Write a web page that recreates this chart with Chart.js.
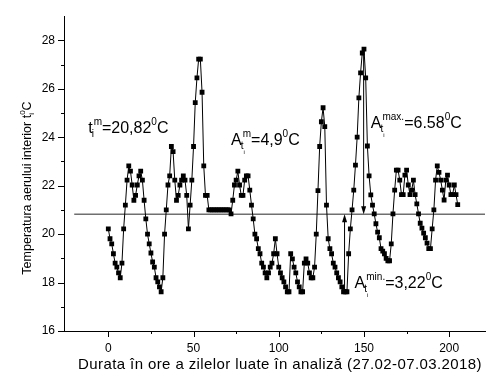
<!DOCTYPE html>
<html>
<head>
<meta charset="utf-8">
<script src="https://cdn.jsdelivr.net/npm/chart.js@4.4.0/dist/chart.umd.min.js"></script>
<style>
  body { margin: 0; background: #fff; }
  #wrap { width: 489px; height: 378px; }
</style>
</head>
<body>
<div id="wrap"><canvas id="tempChart" width="489" height="378"></canvas></div>
<script>
// Indoor air temperature, one reading per hour (hour = index)
const temps = [
  20.22, 19.81, 19.6, 19.19, 18.8, 18.64, 18.4, 18.2, 18.8, 20.22,
  21.2, 22.23, 22.82, 22.6, 22.03, 21.4, 21.6, 22.03, 22.41, 22.6,
  22.23, 21.4, 20.63, 20.0, 19.6, 19.22, 18.85, 18.64, 18.2, 18.03,
  17.82, 17.62, 18.2, 20.0, 21.0, 22.03, 22.41, 23.62, 23.41, 22.23,
  21.4, 21.6, 22.03, 22.23, 22.41, 22.23, 21.6, 20.22, 21.2, 22.23,
  23.62, 25.43, 26.45, 27.23, 27.23, 25.86, 22.82, 21.6, 21.6, 21.0,
  21.0, 21.0, 21.0, 21.0, 21.0, 21.0, 21.0, 21.0, 21.0, 21.0,
  21.0, 21.0, 20.84, 21.4, 22.03, 22.23, 22.6, 22.03, 21.6, 21.6,
  22.23, 22.41, 22.41, 21.82, 21.2, 20.63, 20.0, 19.81, 19.4, 19.19,
  18.8, 18.64, 18.4, 18.2, 18.4, 18.64, 18.8, 19.19, 19.81, 19.19,
  18.64, 18.4, 18.2, 18.03, 17.82, 17.62, 17.62, 19.19, 18.98, 18.64,
  18.4, 18.03, 17.82, 17.62, 17.62, 18.8, 18.98, 18.8, 18.4, 18.2,
  18.2, 18.64, 20.0, 21.8, 23.62, 24.64, 25.22, 24.44, 21.2, 19.81,
  19.4, 19.19, 18.8, 18.64, 18.4, 18.2, 18.03, 17.82, 17.62, 17.62,
  17.62, 19.19, 20.22, 21.0, 21.82, 22.85, 24.01, 25.63, 26.66, 27.48,
  27.64, 26.45, 23.64, 22.41, 21.62, 21.2, 20.84, 20.43, 20.08, 19.85,
  19.4, 19.3, 19.19, 19.0, 18.9, 18.9, 19.6, 20.84, 21.82, 22.64,
  22.64, 22.23, 21.63, 21.63, 22.44, 22.64, 22.03, 21.63, 21.82, 22.23,
  21.63, 21.25, 20.84, 20.45, 20.25, 20.04, 19.85, 19.63, 19.4, 19.4,
  20.22, 21.0, 22.23, 22.82, 22.55, 22.23, 21.82, 21.41, 22.23, 22.44,
  22.03, 21.63, 21.63, 22.03, 21.63, 21.22
];

// mean line
const meanValue = 20.82;
const meanFromX = -20;
const meanToX = 221;

// amplitude arrows: x position, start value, end value (arrowhead at end)
const arrowX = [138.6, 149.8];
const arrowFrom = [17.62, 27.6];
const arrowTo = [20.82, 20.82];

// axis ticks
const xMajorTicks = [0, 50, 100, 150, 200];
const xMinorTicks = [25, 75, 125, 175];
const yMajorTicks = [16, 18, 20, 22, 24, 26, 28];
const yMinorTicks = [17, 19, 21, 23, 25, 27];

const FONT = 'Arial, "Liberation Sans", sans-serif';

function font(size) {
    return size + 'px ' + FONT;
}

// draws "base" with sub/superscript, then "=value", then "0" superscript and "C"
function drawLabel(ctx, x, y, base, sub, subsub, sup, value) {
    ctx.fillStyle = '#000';
    ctx.textBaseline = 'alphabetic';
    ctx.textAlign = 'left';
    ctx.font = font(16);
    ctx.fillText(base, x, y);
    let x1 = x + ctx.measureText(base).width;
    ctx.font = font(10);
    ctx.fillText(sup, x1 + 1, y - 8);
    const supW = ctx.measureText(sup).width + 1;
    ctx.fillText(sub, x1 - 1, y + 4);
    let subW = ctx.measureText(sub).width;
    if (subsub) {
        ctx.font = font(6);
        ctx.fillText(subsub, x1 - 1 + subW, y + 9);
        subW += ctx.measureText(subsub).width;
    }
    let x2 = x1 + Math.max(supW, subW);
    ctx.font = font(16);
    ctx.fillText('=' + value, x2, y);
    x2 += ctx.measureText('=' + value).width;
    ctx.font = font(10);
    ctx.fillText('0', x2, y - 8);
    x2 += ctx.measureText('0').width;
    ctx.font = font(16);
    ctx.fillText('C', x2, y);
}

const decorPlugin = {
    id: 'decor',
    afterDatasetsDraw(chart) {
        const ctx = chart.ctx;
        const xs = chart.scales.x;
        const ys = chart.scales.y;
        const area = chart.chartArea;
        ctx.save();

        // arrows
        ctx.strokeStyle = '#000';
        ctx.fillStyle = '#000';
        ctx.lineWidth = 1;
        for (let i = 0; i < arrowX.length; i++) {
            const px = xs.getPixelForValue(arrowX[i]);
            const y0 = ys.getPixelForValue(arrowFrom[i]);
            const y1 = ys.getPixelForValue(arrowTo[i]);
            const dir = y1 > y0 ? 1 : -1;
            ctx.beginPath();
            ctx.moveTo(px, y0);
            ctx.lineTo(px, y1 - dir * 6);
            ctx.stroke();
            ctx.beginPath();
            ctx.moveTo(px, y1);
            ctx.lineTo(px - 2.5, y1 - dir * 8);
            ctx.lineTo(px + 2.5, y1 - dir * 8);
            ctx.closePath();
            ctx.fill();
        }

        // annotations
        drawLabel(ctx, xs.getPixelForValue(-11.8), ys.getPixelForValue(24.18), 't', 'i', '', 'm', '20,82');
        drawLabel(ctx, xs.getPixelForValue(72), ys.getPixelForValue(23.7), 'A', 't', 'i', 'm', '4,9');
        drawLabel(ctx, xs.getPixelForValue(154), ys.getPixelForValue(24.4), 'A', 't', 'i', 'max.', '6.58');
        drawLabel(ctx, xs.getPixelForValue(144.5), ys.getPixelForValue(17.77), 'A', 't', 'i', 'min.', '3,22');

        // tick marks
        ctx.strokeStyle = '#000';
        ctx.lineWidth = 1;
        ctx.beginPath();
        xMajorTicks.forEach(v => {
            const px = Math.round(xs.getPixelForValue(v)) + 0.5;
            ctx.moveTo(px, area.bottom);
            ctx.lineTo(px, area.bottom + 6);
        });
        xMinorTicks.forEach(v => {
            const px = Math.round(xs.getPixelForValue(v)) + 0.5;
            ctx.moveTo(px, area.bottom);
            ctx.lineTo(px, area.bottom + 3);
        });
        yMajorTicks.forEach(v => {
            const py = Math.round(ys.getPixelForValue(v)) + 0.5;
            ctx.moveTo(area.left, py);
            ctx.lineTo(area.left - 6, py);
        });
        yMinorTicks.forEach(v => {
            const py = Math.round(ys.getPixelForValue(v)) + 0.5;
            ctx.moveTo(area.left, py);
            ctx.lineTo(area.left - 3, py);
        });
        ctx.stroke();

        // x axis title
        ctx.fillStyle = '#000';
        ctx.font = font(15);
        ctx.letterSpacing = '0.4px';
        ctx.textAlign = 'center';
        ctx.fillText('Durata în ore a zilelor luate în analiză (27.02-07.03.2018)', 280, 369);
        ctx.letterSpacing = '0px';

        // y axis title (rotated, with subscript i and superscript 0)
        ctx.save();
        ctx.translate(31, 188);
        ctx.rotate(-Math.PI / 2);
        ctx.textAlign = 'left';
        const main = 'Temperatura aerului interior t';
        ctx.font = font(12.5);
        const wMain = ctx.measureText(main).width;
        ctx.font = font(8);
        const wSub = ctx.measureText('0').width;
        ctx.font = font(12.5);
        const wC = ctx.measureText('C').width;
        const total = wMain + wSub + wC;
        let tx = -total / 2;
        ctx.fillText(main, tx, 0);
        tx += wMain;
        ctx.font = font(8);
        ctx.fillText('0', tx, -6);
        ctx.fillText('i', tx, 3);
        tx += wSub;
        ctx.font = font(12.5);
        ctx.fillText('C', tx, 0);
        ctx.restore();

        ctx.restore();
    }
};

const ctx = document.getElementById('tempChart').getContext('2d');

new Chart(ctx, {
    type: 'line',
    data: {
        datasets: [
            {
                data: temps.map((v, i) => ({ x: i, y: v })),
                borderColor: '#000',
                borderWidth: 1,
                backgroundColor: '#000',
                pointStyle: 'rect',
                pointRadius: 3.4,
                pointBorderWidth: 0,
                tension: 0,
                order: 1
            },
            {
                data: [{ x: meanFromX, y: meanValue }, { x: meanToX, y: meanValue }],
                borderColor: '#6f6f6f',
                borderWidth: 1.6,
                pointRadius: 0,
                order: 2
            }
        ]
    },
    options: {
        responsive: false,
        animation: false,
        devicePixelRatio: 1,
        layout: { padding: { left: 0, right: 0, top: 14, bottom: 0 } },
        plugins: {
            legend: { display: false },
            tooltip: { enabled: false }
        },
        scales: {
            x: {
                type: 'linear',
                min: -26,
                max: 221,
                afterBuildTicks: scale => {
                    scale.ticks = xMajorTicks.map(v => ({ value: v }));
                },
                afterFit: scale => { scale.height = 47; },
                grid: { display: false, drawTicks: false },
                border: { display: true, color: '#000', width: 1 },
                ticks: {
                    color: '#000',
                    font: { family: FONT, size: 12 },
                    padding: 10,
                    maxRotation: 0
                }
            },
            y: {
                type: 'linear',
                min: 16,
                max: 29,
                afterBuildTicks: scale => {
                    scale.ticks = yMajorTicks.map(v => ({ value: v }));
                },
                afterFit: scale => { scale.width = 64; },
                grid: { display: false, drawTicks: false },
                border: { display: true, color: '#000', width: 1 },
                ticks: {
                    color: '#000',
                    font: { family: FONT, size: 12 },
                    padding: 9
                }
            }
        }
    },
    plugins: [decorPlugin]
});
</script>
</body>
</html>
